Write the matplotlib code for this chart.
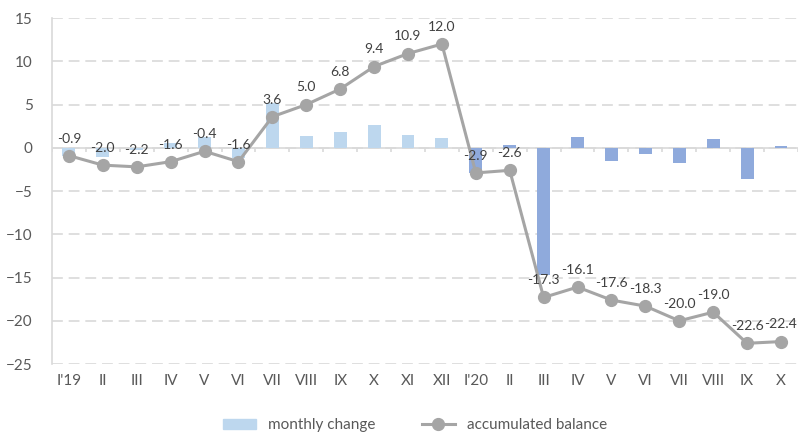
import numpy as np
import matplotlib.pyplot as plt

plt.rcParams['font.family'] = ['Lato', 'DejaVu Sans']

months = ["I'19", "II", "III", "IV", "V", "VI", "VII", "VIII", "IX", "X", "XI", "XII",
          "I'20", "II", "III", "IV", "V", "VI", "VII", "VIII", "IX", "X"]
monthly_change = [-0.9, -1.1, -0.2, 0.6, 1.2, -1.2, 5.2, 1.4, 1.8, 2.6, 1.5, 1.1,
                  -2.9, 0.3, -14.7, 1.2, -1.5, -0.7, -1.7, 1.0, -3.6, 0.2]
accumulated = [-0.9, -2.0, -2.2, -1.6, -0.4, -1.6, 3.6, 5.0, 6.8, 9.4, 10.9, 12.0,
               -2.9, -2.6, -17.3, -16.1, -17.6, -18.3, -20.0, -19.0, -22.6, -22.4]
n_2019 = 12

c19 = '#BDD7EE'
c20 = '#8FAADC'
line_c = '#A5A5A5'
grid_c = '#D9D9D9'
text_c = '#595959'

fig = plt.figure(figsize=(8.06, 4.36), dpi=100)
ax = fig.add_axes([0.0645, 0.165, 0.9255, 0.7935])

x = np.arange(len(months))
bar_colors = [c19 if i < n_2019 else c20 for i in x]
bars = ax.bar(x, monthly_change, width=0.38, color=bar_colors, zorder=2,
              label='monthly change')
line, = ax.plot(x, accumulated, color=line_c, lw=2.2, marker='o', ms=8.5,
                zorder=3, label='accumulated balance')

for xi, v in zip(x, accumulated):
    ax.annotate(f'{v:.1f}', (xi, v), xytext=(0, 8), textcoords='offset points',
                ha='center', va='bottom', fontsize=10, color='#404040', zorder=4)

ax.set_xlim(-0.5, len(months) - 0.5)
ax.set_ylim(-25, 15)
ax.set_yticks(np.arange(-25, 16, 5))
ax.yaxis.grid(True, color=grid_c, lw=1.2, linestyle=(0, (6.5, 3.5)), zorder=0)
ax.set_axisbelow(True)

# zero line with category separators
ax.axhline(0, color=grid_c, lw=1.2, zorder=1)
ax.vlines(np.arange(-0.5, len(months)), -0.45, 0, color=grid_c, lw=1.2, zorder=1)

ax.set_xticks(x, months)
ax.tick_params(axis='x', length=0, pad=7, labelsize=11, labelcolor=text_c)
ax.tick_params(axis='y', length=0, pad=14, labelsize=11, labelcolor=text_c)
for s in ['top', 'right', 'bottom']:
    ax.spines[s].set_visible(False)
ax.spines['left'].set_color(grid_c)
ax.spines['left'].set_linewidth(1.2)

leg = fig.legend(handles=[bars[0], line], labels=['monthly change', 'accumulated balance'],
                 loc='center', bbox_to_anchor=(0.515, 0.025), ncol=2, frameon=False,
                 fontsize=11, handlelength=2.2, handleheight=0.6, columnspacing=3,
                 labelcolor=text_c)
leg.legend_handles[0].set_color(c19)

fig.savefig('out.png', dpi=100)
